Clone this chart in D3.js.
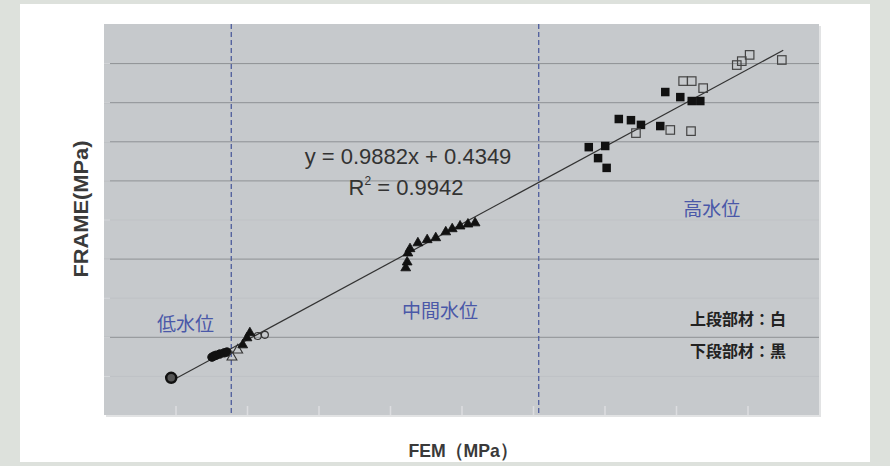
<!DOCTYPE html>
<html><head><meta charset="utf-8">
<script src="https://cdn.jsdelivr.net/npm/d3@7"></script>
<style>html,body{margin:0;padding:0;background:#dde1dc;}svg{display:block;}</style>
</head><body>
<svg id="c" width="890" height="466"></svg>
<script>
// ---- data (arbitrary units) ----
const lowFilledCircles = [[0.44,0.95],[1.01,1.48],[1.04,1.51],[1.07,1.53],[1.12,1.56],[1.18,1.59],[1.22,1.61]];
const lowOpenCircles   = [[1.65,2.02],[1.75,2.05]];
const lowOpenTri       = [[1.29,1.48],[1.37,1.66]];
const filledTri        = [[1.44,1.79],[1.50,1.97],[1.54,2.10],
  [3.72,3.76],[3.74,3.91],[3.75,4.14],[3.78,4.25],[3.89,4.40],[4.02,4.48],[4.14,4.53],[4.28,4.68],[4.37,4.76],[4.48,4.83],[4.59,4.88],[4.69,4.91]];
const highFilledSq = [[6.28,6.85],[6.51,6.88],[6.41,6.57],[6.53,6.32],[6.70,7.57],[6.87,7.54],[7.01,7.42],[7.28,7.39],[7.35,8.26],[7.56,8.13],[7.72,8.03],[7.84,8.03]];
const highOpenSq   = [[6.94,7.21],[7.42,7.29],[7.71,7.26],[7.60,8.54],[7.72,8.54],[7.88,8.36],[8.35,8.95],[8.42,9.05],[8.53,9.21],[8.98,9.08]];
const slope = 0.9882, intercept = 0.4349;
const trendRange = [0.44, 9.0];
const dividers = [1.28, 5.58];
const xDomain = [-0.5, 9.5], yDomain = [0, 10];
const xTicks = [0.5,1.5,2.5,3.5,4.5,5.5,6.5,7.5,8.5];
const yGridStrong = [2,4,6,7,8,9];
const yGridFaint = [1,3,5];
const regionLabels = [["低水位",0.64,2.15],["中間水位",4.2,2.48],["高水位",8.0,5.1]];
const legendLines = ["上段部材：白","下段部材：黒"];
const eqText = "y = 0.9882x + 0.4349", r2Value = "0.9942";
const xTitle = "FEM（MPa）", yTitle = "FRAME(MPa)";

const svg = d3.select("#c");
svg.append("rect").attr("x",20).attr("y",4).attr("width",850).attr("height",458).attr("fill","#fff");

const L=104,T=24,R=819,B=415;
const x = d3.scaleLinear().domain(xDomain).range([L,R]);
const y = d3.scaleLinear().domain(yDomain).range([B,T]);

// shadow + plot area
svg.append("rect").attr("x",L+2).attr("y",T+2).attr("width",R-L).attr("height",B-T).attr("fill","#e2e3e4");
svg.append("rect").attr("x",L).attr("y",T).attr("width",R-L).attr("height",B-T).attr("fill","#c6c9cc");

// gridlines
svg.append("g").attr("transform",`translate(${L},0)`)
  .call(d3.axisLeft(y).tickValues(yGridFaint).tickSize(-(R-L)).tickFormat(""))
  .call(g=>{g.select(".domain").remove();g.selectAll("line").attr("stroke","#bfc2c5");});
svg.append("g").attr("transform",`translate(${L},0)`)
  .call(d3.axisLeft(y).tickValues(yGridStrong).tickSize(-(R-L)).tickFormat(""))
  .call(g=>{g.select(".domain").remove();g.selectAll("line").attr("stroke","#8e9194");});
// faint inner ticks
svg.append("g").attr("transform",`translate(0,${B})`)
  .call(d3.axisBottom(x).tickValues(xTicks).tickSize(-9).tickFormat(""))
  .call(g=>{g.select(".domain").remove();g.selectAll("line").attr("stroke","#dcdde0").attr("stroke-width",1.5);});
svg.append("g").attr("transform",`translate(${L},0)`)
  .call(d3.axisLeft(y).tickValues(d3.range(1,10)).tickSize(-6).tickFormat(""))
  .call(g=>{g.select(".domain").remove();g.selectAll("line").attr("stroke","#d8dadd");});

// dividers
svg.selectAll(".div").data(dividers).enter().append("line")
  .attr("x1",d=>x(d)).attr("x2",d=>x(d)).attr("y1",T).attr("y2",B)
  .attr("stroke","#4d5c9c").attr("stroke-width",1.3).attr("stroke-dasharray","5,3");

// trend line
svg.append("line").attr("x1",x(trendRange[0])).attr("y1",y(slope*trendRange[0]+intercept))
  .attr("x2",x(trendRange[1])).attr("y2",y(slope*trendRange[1]+intercept))
  .attr("stroke","#333").attr("stroke-width",1.2);

// markers
const tri = d3.symbol().type(d3.symbolTriangle).size(42);
svg.selectAll(".lfc").data(lowFilledCircles).enter().append("circle")
  .attr("cx",d=>x(d[0])).attr("cy",d=>y(d[1])).attr("r",(d,i)=>i===0?5:4.2)
  .attr("fill",(d,i)=>i===0?"#555":"#111").attr("stroke","#111").attr("stroke-width",(d,i)=>i===0?2.5:1);
svg.selectAll(".loc").data(lowOpenCircles).enter().append("circle")
  .attr("cx",d=>x(d[0])).attr("cy",d=>y(d[1])).attr("r",3.5)
  .attr("fill","none").attr("stroke","#333").attr("stroke-width",1.2);
svg.selectAll(".lot").data(lowOpenTri).enter().append("path")
  .attr("d",tri).attr("transform",d=>`translate(${x(d[0])},${y(d[1])})`)
  .attr("fill","none").attr("stroke","#333").attr("stroke-width",1.1);
svg.selectAll(".ft").data(filledTri).enter().append("path")
  .attr("d",tri).attr("transform",d=>`translate(${x(d[0])},${y(d[1])})`)
  .attr("fill","#111").attr("stroke","#111").attr("stroke-width",0.8);
const s=8.5;
svg.selectAll(".hfs").data(highFilledSq).enter().append("rect")
  .attr("x",d=>x(d[0])-s/2).attr("y",d=>y(d[1])-s/2).attr("width",s).attr("height",s)
  .attr("fill","#111");
svg.selectAll(".hos").data(highOpenSq).enter().append("rect")
  .attr("x",d=>x(d[0])-s/2).attr("y",d=>y(d[1])-s/2).attr("width",s).attr("height",s)
  .attr("fill","none").attr("stroke","#444").attr("stroke-width",1.2);

// texts
const jp = "'Noto Sans CJK JP', sans-serif";
svg.selectAll(".rl").data(regionLabels).enter().append("text")
  .attr("x",d=>x(d[1])).attr("y",d=>y(d[2])).attr("text-anchor","middle")
  .attr("font-family",jp).attr("font-size",19).attr("fill","#4a58a8").text(d=>d[0]);
svg.selectAll(".lg").data(legendLines).enter().append("text")
  .attr("x",738).attr("y",(d,i)=>325+i*32).attr("text-anchor","middle")
  .attr("font-family",jp).attr("font-size",16).attr("font-weight","bold").attr("fill","#222").text(d=>d);

const sans = "'Liberation Sans', Arial, sans-serif";
svg.append("text").attr("x",408).attr("y",164).attr("text-anchor","middle")
  .attr("font-family",sans).attr("font-size",22).attr("fill","#333").text(eqText);
const r2 = svg.append("text").attr("x",406).attr("y",195).attr("text-anchor","middle")
  .attr("font-family",sans).attr("font-size",22).attr("fill","#333");
r2.append("tspan").text("R");
r2.append("tspan").attr("font-size",12).attr("dy",-10).text("2");
r2.append("tspan").attr("dy",10).text(" = " + r2Value);

svg.append("text").attr("x",463).attr("y",457).attr("text-anchor","middle")
  .attr("font-family",sans).attr("font-size",19).attr("font-weight","bold").attr("fill","#3a3a3a")
  .attr("textLength",109).attr("lengthAdjust","spacingAndGlyphs").text(xTitle);
svg.append("text").attr("transform","translate(88,209) rotate(-90)").attr("text-anchor","middle")
  .attr("font-family",sans).attr("font-size",20).attr("font-weight","bold").attr("fill","#3a3a3a")
  .attr("textLength",137).attr("lengthAdjust","spacingAndGlyphs").text(yTitle);
</script>
</body></html>
